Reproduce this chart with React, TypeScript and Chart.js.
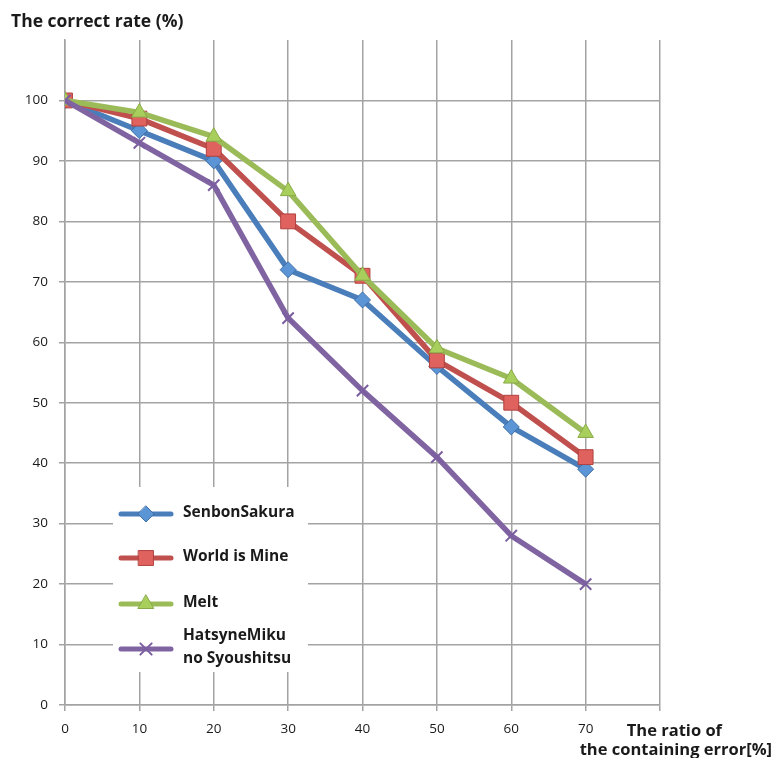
import React, { useEffect, useRef } from "react";
import { Chart, registerables } from "chart.js";

Chart.register(...registerables);

// Error ratio (%) on the x axis
const errorRatios = [0, 10, 20, 30, 40, 50, 60, 70];

// Correct rate (%) for each song
const senbonSakura = [100, 95, 90, 72, 67, 56, 46, 39];
const worldIsMine = [100, 97, 92, 80, 71, 57, 50, 41];
const melt = [100, 98, 94, 85, 71, 59, 54, 45];
const hatsuneMiku = [100, 93, 86, 64, 52, 41, 28, 20];

const seriesLabels = ["SenbonSakura", "World is Mine", "Melt", "HatsyneMiku\nno Syoushitsu"];

const yTicks = [0, 10, 20, 30, 40, 50, 60, 70, 80, 90, 100];
const xTicks = [0, 10, 20, 30, 40, 50, 60, 70];

const FONT = "'Open Sans', 'Noto Sans', sans-serif";
const GRID = "#a3a3a3";

type Style = {
  line: string;
  fill: string;
  edge: string;
  shape: string;
  radius: number;
  edgeWidth: number;
};

const styles: Style[] = [
  { line: "#4a7ebb", fill: "#5b95d6", edge: "#3f6fa8", shape: "rectRot", radius: 8, edgeWidth: 1 },
  { line: "#c0504d", fill: "#e0625f", edge: "#b0403d", shape: "rect", radius: 10.5, edgeWidth: 1 },
  { line: "#9bbb59", fill: "#a8cf5c", edge: "#8aaa48", shape: "triangle", radius: 9, edgeWidth: 1 },
  { line: "#8064a2", fill: "#8064a2", edge: "#7a5ea0", shape: "crossRot", radius: 8, edgeWidth: 2 },
];

function drawMarker(ctx: CanvasRenderingContext2D, s: Style, x: number, y: number) {
  ctx.save();
  ctx.fillStyle = s.fill;
  ctx.strokeStyle = s.edge;
  ctx.lineWidth = s.edgeWidth;
  ctx.beginPath();
  const r = s.radius;
  if (s.shape === "rectRot") {
    ctx.moveTo(x, y - r);
    ctx.lineTo(x + r, y);
    ctx.lineTo(x, y + r);
    ctx.lineTo(x - r, y);
    ctx.closePath();
    ctx.fill();
    ctx.stroke();
  } else if (s.shape === "rect") {
    const h = r * Math.SQRT1_2;
    ctx.rect(x - h, y - h, 2 * h, 2 * h);
    ctx.fill();
    ctx.stroke();
  } else if (s.shape === "triangle") {
    const a = (r * 3) / Math.sqrt(3);
    const hh = (a * Math.sqrt(3)) / 2;
    ctx.moveTo(x, y - (2 * hh) / 3);
    ctx.lineTo(x + a / 2, y + hh / 3);
    ctx.lineTo(x - a / 2, y + hh / 3);
    ctx.closePath();
    ctx.fill();
    ctx.stroke();
  } else {
    const d = r * Math.SQRT1_2;
    ctx.moveTo(x - d, y - d);
    ctx.lineTo(x + d, y + d);
    ctx.moveTo(x + d, y - d);
    ctx.lineTo(x - d, y + d);
    ctx.stroke();
  }
  ctx.restore();
}

const textPlugin = {
  id: "chartText",
  afterDraw(chart: Chart) {
    const ctx = chart.ctx;
    ctx.save();
    // Axis titles
    ctx.fillStyle = "#1a1a1a";
    ctx.font = `bold 17.5px ${FONT}`;
    ctx.textBaseline = "middle";
    ctx.textAlign = "left";
    ctx.fillText("The correct rate (%)", 11, 22);
    ctx.font = `bold 16.5px ${FONT}`;
    ctx.textAlign = "right";
    ctx.fillText("The ratio of", 722, 731);
    ctx.fillText("the containing error[%]", 772, 750);

    // Legend box
    ctx.fillStyle = "#ffffff";
    ctx.fillRect(113, 487, 195, 185);
    const rows = [514, 558, 604, 649];
    seriesLabels.forEach((label, i) => {
      const s = styles[i];
      const y = rows[i];
      ctx.strokeStyle = s.line;
      ctx.lineWidth = 5;
      ctx.lineCap = "round";
      ctx.beginPath();
      ctx.moveTo(121, y);
      ctx.lineTo(171, y);
      ctx.stroke();
      drawMarker(ctx, s, 146, y);
      ctx.fillStyle = "#1a1a1a";
      ctx.font = `bold 15.5px ${FONT}`;
      ctx.textAlign = "left";
      ctx.textBaseline = "middle";
      const lines = label.split("\n");
      if (lines.length === 1) {
        ctx.fillText(lines[0], 183, y - 1);
      } else {
        ctx.fillText(lines[0], 183, y - 13);
        ctx.fillText(lines[1], 183, y + 10);
      }
    });
    ctx.restore();
  },
};

export default function App() {
  const canvasRef = useRef<HTMLCanvasElement | null>(null);

  useEffect(() => {
    const canvas = canvasRef.current;
    if (!canvas) return;
    const seriesData = [senbonSakura, worldIsMine, melt, hatsuneMiku];
    const chart = new Chart(canvas, {
      type: "line",
      data: {
        datasets: seriesData.map((vals, i) => ({
          label: seriesLabels[i],
          data: vals.map((v, j) => ({ x: errorRatios[j], y: v })),
          borderColor: styles[i].line,
          borderWidth: 5.5,
          backgroundColor: styles[i].fill,
          pointBackgroundColor: styles[i].fill,
          pointBorderColor: styles[i].edge,
          pointBorderWidth: styles[i].edgeWidth,
          pointStyle: styles[i].shape as any,
          pointRadius: styles[i].radius,
          tension: 0,
          order: 4 - i,
          borderJoinStyle: "round" as const,
        })),
      },
      options: {
        responsive: false,
        animation: false,
        events: [],
        layout: { padding: { left: 0, top: 40, right: 113, bottom: 0 } },
        plugins: {
          legend: { display: false },
          tooltip: { enabled: false },
          title: { display: false },
        },
        scales: {
          x: {
            type: "linear",
            min: 0,
            max: 80,
            afterBuildTicks: (scale: any) => {
              scale.ticks = [...xTicks, 80].map((v) => ({ value: v }));
            },
            afterFit: (scale: any) => {
              scale.height = 53;
            },
            grid: {
              color: GRID,
              lineWidth: 1.5,
              tickLength: 6,
            },
            border: { color: GRID, width: 1.5 },
            ticks: {
              color: "#1a1a1a",
              font: { family: FONT, size: 13.5 },
              padding: 10,
              maxRotation: 0,
              callback: (v: any) => (xTicks.includes(Number(v)) ? String(v) : ""),
            },
          },
          y: {
            type: "linear",
            min: 0,
            max: 110,
            afterBuildTicks: (scale: any) => {
              scale.ticks = [...yTicks, 110].map((v) => ({ value: v }));
            },
            afterFit: (scale: any) => {
              scale.width = 65;
            },
            grid: {
              color: (c: any) => (c.tick && c.tick.value === 110 ? "rgba(0,0,0,0)" : GRID),
              lineWidth: 1.5,
              tickLength: 6,
            },
            border: { color: GRID, width: 1.5 },
            ticks: {
              color: "#1a1a1a",
              font: { family: FONT, size: 13.5 },
              padding: 11,
              callback: (v: any) => (yTicks.includes(Number(v)) ? String(v) : ""),
            },
          },
        },
      },
      plugins: [textPlugin],
    });
    return () => chart.destroy();
  }, []);

  return (
    <div style={{ position: "absolute", left: 0, top: 0, width: 773, height: 758, background: "#fff" }}>
      <canvas ref={canvasRef} width={773} height={758} style={{ width: 773, height: 758, display: "block" }} />
    </div>
  );
}
